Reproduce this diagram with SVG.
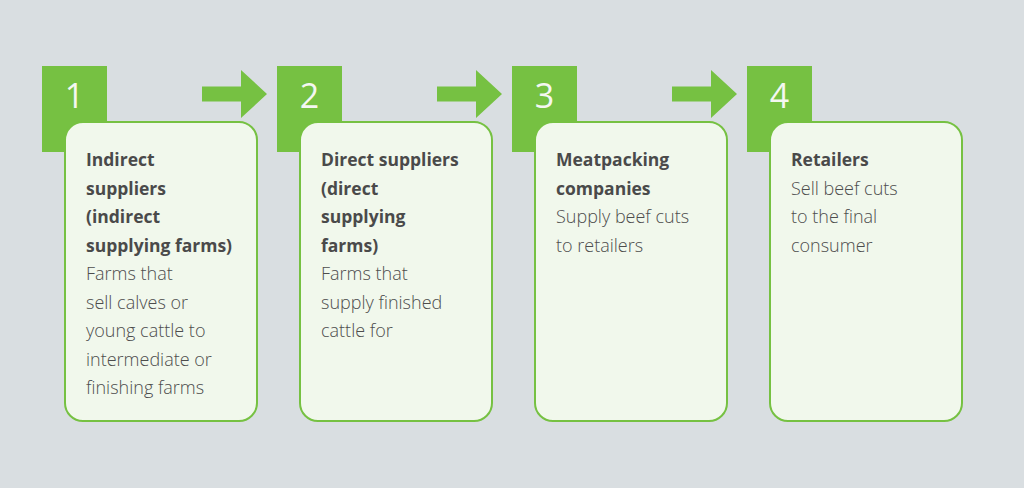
<svg xmlns="http://www.w3.org/2000/svg" width="1024" height="488" viewBox="0 0 1024 488">
<defs>
<style>
.sq{fill:#76c142}
.card{fill:#f1f8ec;stroke:#76c142;stroke-width:2}
.num{font-family:"Open Sans",Lato,sans-serif;font-size:34px;font-weight:500;fill:#f4f7f1;text-anchor:middle}
.h{font-family:"Open Sans",Lato,sans-serif;font-size:17.5px;font-weight:700;fill:#4a4a4a}
.b{font-family:"Open Sans",Lato,sans-serif;font-size:18px;font-weight:300;fill:#4d4d4d}
.arr{fill:#76c142}
</style>
</defs>
<rect x="0" y="0" width="1024" height="488" fill="#d9dee1"/>
<g id="connectors">
<polygon class="arr" points="202,86.5 241,86.5 241,70 267,94 241,118 241,101.5 202,101.5"/>
<polygon class="arr" points="437,86.5 476,86.5 476,70 502,94 476,118 476,101.5 437,101.5"/>
<polygon class="arr" points="672,86.5 711,86.5 711,70 737,94 711,118 711,101.5 672,101.5"/>
</g>
<g id="node1">
<rect class="sq" x="42" y="66" width="65" height="86"/>
<text class="num" x="74.5" y="108">1</text>
<rect class="card" x="65" y="122" width="192" height="299" rx="18"/>
<text class="h" x="86" y="166">Indirect</text>
<text class="h" x="86" y="194.5">suppliers</text>
<text class="h" x="86" y="223">(indirect</text>
<text class="h" x="86" y="251.5">supplying farms)</text>
<text class="b" x="86" y="280">Farms that</text>
<text class="b" x="86" y="308.5">sell calves or</text>
<text class="b" x="86" y="337">young cattle to</text>
<text class="b" x="86" y="365.5">intermediate or</text>
<text class="b" x="86" y="394">finishing farms</text>
</g>
<g id="node2">
<rect class="sq" x="277" y="66" width="65" height="86"/>
<text class="num" x="309.5" y="108">2</text>
<rect class="card" x="300" y="122" width="192" height="299" rx="18"/>
<text class="h" x="321" y="166">Direct suppliers</text>
<text class="h" x="321" y="194.5">(direct</text>
<text class="h" x="321" y="223">supplying</text>
<text class="h" x="321" y="251.5">farms)</text>
<text class="b" x="321" y="280">Farms that</text>
<text class="b" x="321" y="308.5">supply finished</text>
<text class="b" x="321" y="337">cattle for</text>
</g>
<g id="node3">
<rect class="sq" x="512" y="66" width="65" height="86"/>
<text class="num" x="544.5" y="108">3</text>
<rect class="card" x="535" y="122" width="192" height="299" rx="18"/>
<text class="h" x="556" y="166">Meatpacking</text>
<text class="h" x="556" y="194.5">companies</text>
<text class="b" x="556" y="223">Supply beef cuts</text>
<text class="b" x="556" y="251.5">to retailers</text>
</g>
<g id="node4">
<rect class="sq" x="747" y="66" width="65" height="86"/>
<text class="num" x="779.5" y="108">4</text>
<rect class="card" x="770" y="122" width="192" height="299" rx="18"/>
<text class="h" x="791" y="166">Retailers</text>
<text class="b" x="791" y="194.5">Sell beef cuts</text>
<text class="b" x="791" y="223">to the final</text>
<text class="b" x="791" y="251.5">consumer</text>
</g>
</svg>
